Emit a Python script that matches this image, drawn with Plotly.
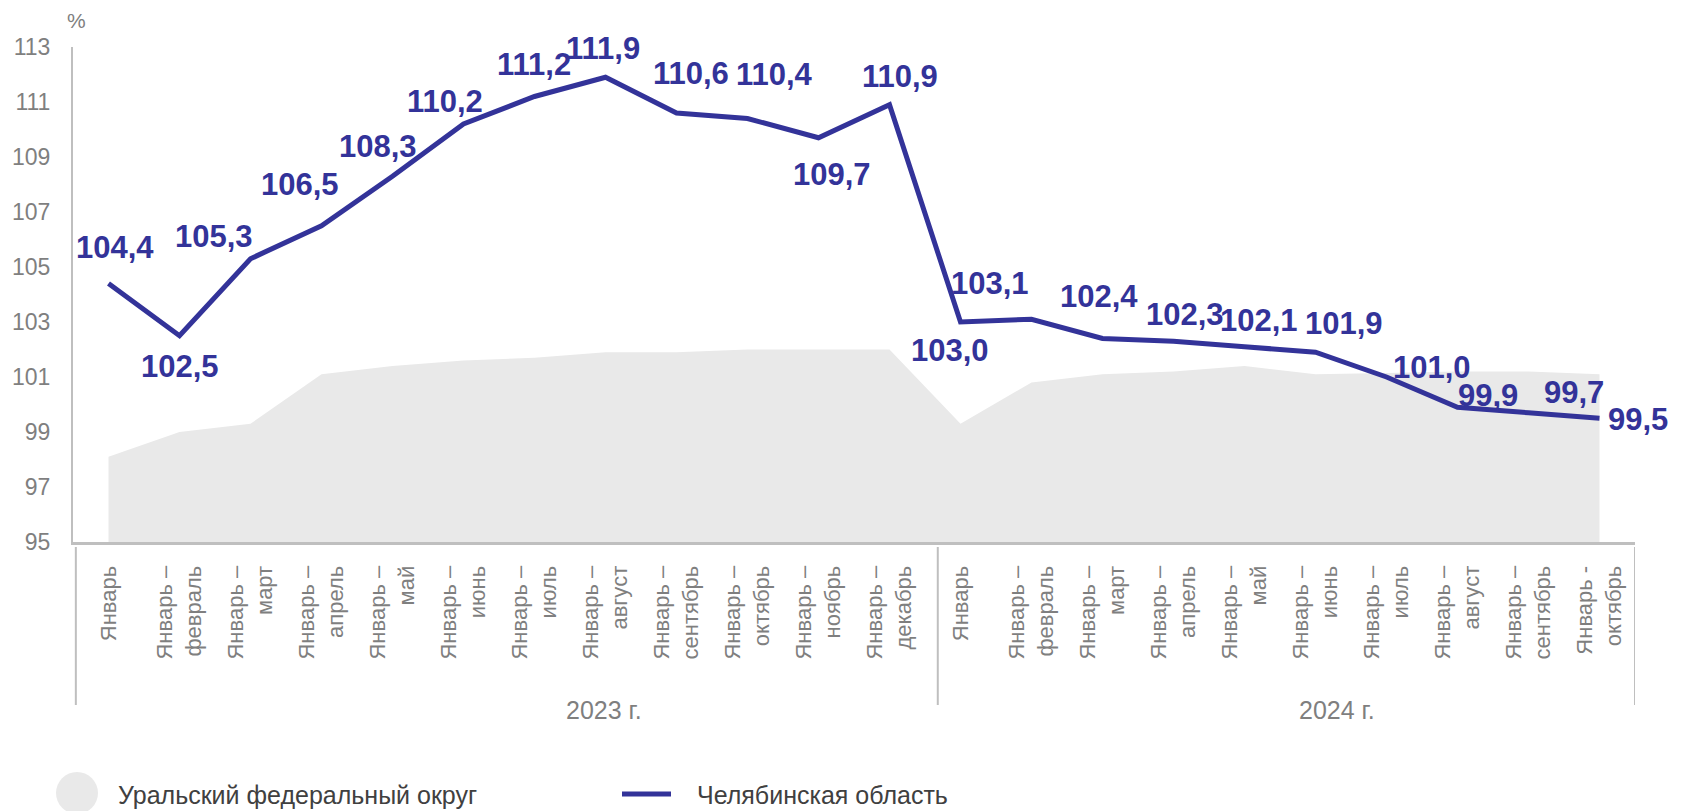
import plotly.graph_objects as go

# ---------------- data ----------------
years = ["2023 г.", "2024 г."]
months_2023 = ["Январь", "Январь –<br>февраль", "Январь –<br>март", "Январь –<br>апрель",
               "Январь –<br>май", "Январь –<br>июнь", "Январь –<br>июль", "Январь –<br>август",
               "Январь –<br>сентябрь", "Январь –<br>октябрь", "Январь –<br>ноябрь",
               "Январь –<br>декабрь"]
months_2024 = ["Январь", "Январь –<br>февраль", "Январь –<br>март", "Январь –<br>апрель",
               "Январь –<br>май", "Январь –<br>июнь", "Январь –<br>июль", "Январь –<br>август",
               "Январь –<br>сентябрь", "Январь -<br>октябрь"]
ufo_values = [98.1, 99.0, 99.3, 101.1, 101.4, 101.6, 101.7, 101.9, 101.9, 102.0, 102.0, 102.0,
              99.3, 100.8, 101.1, 101.2, 101.4, 101.1, 101.15, 101.2, 101.2, 101.1]
chel_values = [104.4, 102.5, 105.3, 106.5, 108.3, 110.2, 111.2, 111.9, 110.6, 110.4, 109.7, 110.9,
               103.0, 103.1, 102.4, 102.3, 102.1, 101.9, 101.0, 99.9, 99.7, 99.5]
series_names = ["Уральский федеральный округ", "Челябинская область"]
y_ticks = [95, 97, 99, 101, 103, 105, 107, 109, 111, 113]

# ---------------- layout / style ----------------
W, H = 1683, 811
ML, MR, MT, MB = 73, 48, 47, 269
PW, PH = W - ML - MR, H - MT - MB
LINE_COLOR = "#333399"
AREA_COLOR = "#e9e9e9"
AXIS_COLOR = "#bfbfbf"
TEXT_GRAY = "#7f7f7f"
FONT = "Liberation Sans, Arial, sans-serif"

# label offsets in pixels (dx, dy up)
label_offsets = [(6, 36), (0, -31), (-37, 22), (-22, 41), (-15, 30), (-19, 23), (-1, 32), (-3, 29),
                 (14, 40), (27, 44), (13, -37), (10, 28), (-11, -28), (-42, 36), (-4, 42),
                 (11, 27), (14, 26), (28, 29), (45, 10), (30, 12), (45, 20), (38, -1)]


def px_x(p):
    return (p - ML) / PW


def px_y(p):
    return (H - MB - p) / PH


categories = months_2023 + months_2024
xs = list(range(len(categories)))

fig = go.Figure()
fig.add_trace(go.Scatter(x=xs, y=ufo_values, mode="lines", fill="tozeroy",
                         fillcolor=AREA_COLOR, line=dict(width=0, color=AREA_COLOR),
                         name=series_names[0], showlegend=False, hoverinfo="skip"))
fig.add_trace(go.Scatter(x=xs, y=chel_values, mode="lines",
                         line=dict(width=5, color=LINE_COLOR),
                         name=series_names[1], showlegend=False))

annotations = []
for i, v in enumerate(chel_values):
    dx, dy = label_offsets[i]
    annotations.append(dict(x=i, y=v, xref="x", yref="y", text=f"{v:.1f}".replace(".", ","),
                            showarrow=False, xshift=dx, yshift=dy,
                            xanchor="center", yanchor="middle",
                            font=dict(family=FONT, size=31, color=LINE_COLOR, weight="bold")))

# year labels
year_pos = [6.98, 17.3]
for yl, xp in zip(years, year_pos):
    annotations.append(dict(x=xp, y=px_y(710), xref="x", yref="paper", text=yl, showarrow=False,
                            xanchor="center", yanchor="middle",
                            font=dict(family=FONT, size=25, color=TEXT_GRAY)))

# percent sign
annotations.append(dict(x=px_x(76), y=px_y(20), xref="paper", yref="paper", text="%",
                        showarrow=False, xanchor="center", yanchor="middle",
                        font=dict(family=FONT, size=21, color=TEXT_GRAY)))

# legend (manual)
annotations.append(dict(x=px_x(116), y=px_y(795), xref="paper", yref="paper", text=series_names[0],
                        showarrow=False, xanchor="left", yanchor="middle",
                        font=dict(family=FONT, size=25, color="#404040")))
annotations.append(dict(x=px_x(695), y=px_y(795), xref="paper", yref="paper", text=series_names[1],
                        showarrow=False, xanchor="left", yanchor="middle",
                        font=dict(family=FONT, size=25, color="#404040")))

shapes = []
# category dividers
for xd in [-0.46, 11.68, 21.5]:
    shapes.append(dict(type="line", xref="x", yref="paper", x0=xd, x1=xd,
                       y0=px_y(547), y1=px_y(705), line=dict(color=AXIS_COLOR, width=2)))
# legend symbols
shapes.append(dict(type="circle", xref="paper", yref="paper", x0=px_x(56), x1=px_x(98),
                   y0=px_y(772), y1=px_y(814), fillcolor=AREA_COLOR, line=dict(width=0)))
shapes.append(dict(type="line", xref="paper", yref="paper", x0=px_x(622), x1=px_x(671),
                   y0=px_y(794), y1=px_y(794), line=dict(color=LINE_COLOR, width=5)))

fig.update_layout(
    width=W, height=H,
    margin=dict(l=ML, r=MR, t=MT, b=MB, pad=0),
    paper_bgcolor="white", plot_bgcolor="white",
    annotations=annotations, shapes=shapes,
    showlegend=False,
    xaxis=dict(range=[-0.5, 21.5], tickmode="array", tickvals=xs, ticktext=categories,
               tickangle=-90, showgrid=False, zeroline=False, showline=True,
               linecolor=AXIS_COLOR, linewidth=3, ticks="", ticklabelstandoff=12,
               tickfont=dict(family=FONT, size=22, color=TEXT_GRAY), fixedrange=True),
    yaxis=dict(range=[95, 113], tickmode="array", tickvals=y_ticks,
               ticktext=[str(t) for t in y_ticks], showgrid=False, zeroline=False,
               showline=True, linecolor=AXIS_COLOR, linewidth=2, ticks="",
               ticklabelstandoff=16,
               tickfont=dict(family=FONT, size=23, color=TEXT_GRAY), fixedrange=True),
)

fig.write_html("out.html", config={"displayModeBar": False},
               post_script="document.body.style.margin='0';document.body.style.overflow='hidden';")
